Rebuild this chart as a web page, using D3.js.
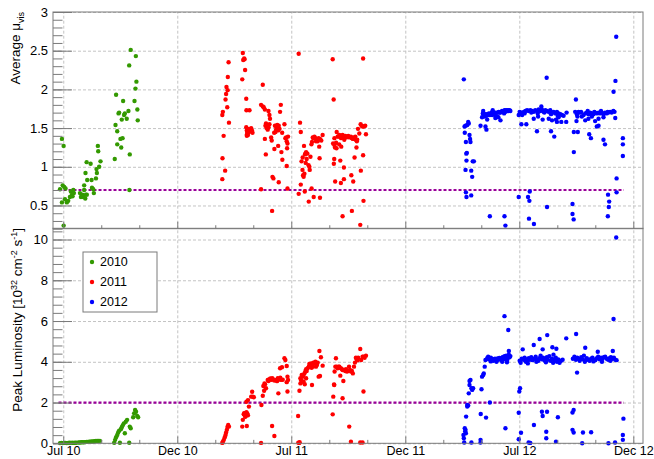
<!DOCTYPE html>
<html>
<head>
<meta charset="utf-8">
<script src="https://cdn.jsdelivr.net/npm/d3@7"></script>
<style>
  body { margin: 0; background: #fff; }
  svg { font-family: "Liberation Sans", Arial, Helvetica, sans-serif; }
  .axis path { stroke: none; }
  .axis line { stroke: #7a7a7a; }
  .grid line { stroke: #c4c4c4; stroke-dasharray: 3,2; }
  .grid path { stroke: none; }
</style>
</head>
<body>
<svg width="654" height="459"></svg>
<script>
// x values are months after the "Jul 10" tick
const tickLabels = ["Jul 10", "Dec 10", "Jul 11", "Dec 11", "Jul 12", "Dec 12"];
const tickMonths = [0, 6, 12, 18, 24, 30];
const years = ["2010", "2011", "2012"];
const colors = ["#339900", "#ff0000", "#0000ff"];
const muThreshold = 0.7;
const lumiThreshold = 2.0;
const thresholdSpan = [-0.25, 29.5];

// average mu_vis
const mu2010 = [[-0.07,1.36],[0.02,1.27],[-0.17,0.71],[-0.03,0.76],[0.05,0.74],[0.12,0.72],[-0.07,0.54],[0.09,0.58],[0.19,0.54],[0.26,0.56],[0.02,0.24],[0.35,0.61],[0.40,0.68],[0.46,0.64],[0.49,0.62],[0.53,0.70],[0.56,0.66],
  [0.88,0.66],[0.93,0.61],[1.00,0.64],[1.05,0.61],[1.10,0.70],[1.16,0.59],[1.19,0.64],[1.24,0.64],[1.10,0.76],[1.17,0.92],[1.23,1.06],[1.26,0.83],[1.44,1.04],[1.49,0.83],[1.51,0.73],[1.58,0.71],[1.61,0.66],
  [1.72,0.85],[1.75,0.97],[1.77,0.92],[1.84,1.20],[1.82,1.27],[1.89,1.00],[1.96,1.07],[2.71,1.10],[2.75,1.54],[2.78,1.93],[2.84,1.29],[2.84,1.46],[2.91,1.69],[2.94,1.70],[3.01,1.36],[3.05,1.25],
  [3.08,1.61],[3.12,1.37],[3.15,1.85],[3.20,1.67],[3.24,1.69],[3.34,1.62],[3.43,1.72],[3.47,2.31],[3.50,1.16],[3.48,0.70],[3.55,2.51],[3.75,1.85],[3.80,2.01],[3.82,2.43],[3.85,2.10],[3.90,1.74],[3.92,1.60]];
const mu2011 = [[8.37,0.84],[8.38,1.11],[8.44,1.40],[8.37,1.67],[8.40,1.71],[8.52,0.95],[8.54,1.87],[8.57,1.94],[8.59,2.03],[8.65,1.99],[8.63,1.77],[8.66,2.16],[8.70,2.35],[8.72,1.57],
  [9.42,2.13],[9.45,2.47],[9.47,2.38],[9.52,2.40],[9.54,2.39],[9.57,2.25],[9.63,1.88],[9.64,1.73],[9.80,1.73],
  [9.63,1.51],[9.66,1.47],[9.68,1.45],[9.71,1.49],[9.74,1.47],[9.77,1.45],[9.80,1.48],[9.83,1.46],[9.86,1.49],[9.89,1.50],[9.93,1.47],[9.96,1.44],[9.66,1.40],[9.72,1.41],[9.67,1.42],
  [10.41,0.71],[10.50,2.06],[10.41,1.80],[10.50,1.78],[10.55,1.77],[10.61,1.74],
  [10.64,1.53],[10.67,1.56],[10.72,1.53],[10.76,1.48],[10.80,1.51],[10.85,1.55],[10.70,1.50],[10.78,1.53],
  [10.66,1.16],[10.61,1.36],[10.80,1.72],[10.85,1.67],[10.88,1.62],[10.94,1.38],[10.97,1.34],[11.01,0.87],[11.06,0.85],[10.99,0.43],[11.11,1.23],
  [11.17,1.45],[11.24,1.51],[11.29,1.52],[11.34,1.53],[11.38,1.49],[11.31,1.47],[11.10,1.44],[11.20,1.48],[11.26,1.54],[11.14,1.53],
  [11.31,1.27],[11.34,0.80],[11.41,1.71],[11.45,1.80],[11.48,1.19],[11.52,1.44],[11.53,1.09],[11.64,1.55],
  [11.69,1.37],[11.73,1.38],[11.76,1.33],[11.80,1.30],[11.83,1.39],[11.76,1.01],[11.78,1.24],[11.80,0.72],
  [12.39,2.46],[12.46,1.57],[12.50,1.45],[12.39,0.65],[12.50,0.77],
  [12.54,1.07],[12.59,0.96],[12.62,0.89],[12.65,0.87],[12.69,0.91],[12.74,1.17],[12.78,1.19],[12.81,1.10],[12.67,1.27],[12.72,1.16],[12.85,1.17],[12.60,1.12],[12.76,1.05],
  [12.71,0.68],[12.92,0.55],[12.95,1.00],[12.97,0.96],[12.91,1.02],
  [13.01,1.13],[13.06,1.29],[13.09,1.32],[13.13,1.38],[13.16,1.37],[13.22,1.39],[13.27,1.37],[13.30,1.33],[13.34,1.35],[13.39,1.33],[13.44,1.37],[13.51,1.36],[13.58,1.34],[13.65,1.41],
  [13.07,0.72],[13.18,0.61],[13.49,1.11],[13.51,0.60],[13.47,1.26],[14.18,2.39],[14.23,1.87],
  [14.20,1.30],[14.27,1.28],[14.30,1.25],[14.27,1.37],[14.36,1.31],[14.39,1.45],[14.44,1.39],[14.49,1.39],[14.53,1.41],[14.62,1.37],[14.67,1.39],[14.70,1.41],[14.76,1.38],[14.79,1.35],[14.84,1.40],[14.88,1.38],[14.93,1.39],[15.00,1.40],
  [15.05,1.38],[15.14,1.39],[15.19,1.37],[15.24,1.36],[15.30,1.38],[15.33,1.36],[15.37,1.39],[15.40,1.35],[15.45,1.33],[15.51,1.49],[15.58,1.43],[15.65,1.55],[15.70,1.53],[15.75,1.52],[15.82,1.52],[15.89,1.53],[15.93,1.42],
  [14.26,1.10],[14.24,1.04],[14.31,0.81],[14.38,1.24],[14.52,1.29],[14.58,1.08],[14.61,0.79],[14.63,1.26],[14.70,0.36],[14.77,0.99],[14.77,0.84],[15.16,0.89],[15.19,0.43],[15.26,0.81],[15.33,1.12],[15.43,1.25],[15.47,1.35],[15.63,0.25],[15.66,0.95],[15.78,2.40],[15.80,0.56],[15.78,1.15]];
const mu2012 = [[21.08,2.13],[21.12,1.52],[21.17,1.53],[21.26,1.54],[21.31,1.58],[21.34,1.56],[21.13,1.44],[21.19,1.32],[21.38,1.41],[21.41,1.36],[21.43,1.32],[21.21,1.17],[21.24,1.18],[21.22,1.08],[21.17,0.96],[21.47,0.95],[21.52,0.87],[21.55,1.07],[21.61,1.07],[21.19,0.67],[21.22,0.61],[21.47,0.63],
  [21.96,1.53],[22.04,1.64],[22.08,1.69],[22.13,1.67],[22.17,1.65],[22.22,1.68],[22.27,1.66],[22.31,1.68],[22.36,1.67],[22.40,1.69],[22.45,1.67],[22.48,1.68],[22.54,1.70],[22.57,1.67],[22.61,1.69],[22.66,1.68],[22.70,1.70],[22.74,1.67],[22.78,1.70],[22.83,1.65],[22.87,1.70],
  [22.92,1.71],[22.96,1.70],[23.01,1.70],[23.05,1.71],[23.09,1.72],[23.14,1.71],[23.18,1.72],[23.23,1.73],[23.27,1.71],[23.31,1.73],[23.36,1.72],[23.40,1.73],[23.44,1.72],[23.49,1.73],[23.53,1.72],[22.10,1.72],[22.60,1.73],[22.90,1.64],[23.20,1.69],
  [22.22,1.52],[22.27,1.48],[22.31,1.61],[22.74,1.63],[23.01,1.60],[22.45,0.36],[23.22,0.36],[23.27,0.24],
  [23.97,1.67],[24.06,1.69],[24.11,1.70],[24.15,1.67],[24.24,1.71],[24.32,1.72],[24.41,1.73],[24.50,1.72],[24.58,1.73],[24.67,1.72],[24.76,1.71],[24.84,1.73],[24.93,1.72],[25.02,1.74],[25.11,1.72],[25.19,1.74],[25.28,1.71],[25.37,1.73],[25.46,1.72],
  [25.54,1.71],[25.63,1.73],[25.72,1.70],[25.81,1.71],[25.89,1.69],[25.98,1.71],[26.07,1.69],[26.16,1.68],[26.24,1.67],[26.33,1.66],[24.02,1.71],[24.28,1.69],[24.63,1.70],[24.97,1.69],[25.32,1.70],[25.67,1.68],[26.02,1.66],
  [25.16,1.78],[25.44,2.15],[24.76,1.62],[24.99,1.65],[25.23,1.61],[25.55,1.62],[25.72,1.60],[25.93,1.61],[26.07,1.64],[26.21,1.58],[25.98,1.58],[26.47,1.58],[26.49,1.70],
  [24.11,1.55],[24.37,1.55],[24.93,1.46],[25.67,1.46],[25.84,1.39],
  [23.97,0.61],[24.46,0.61],[24.55,0.68],[24.53,0.56],[24.51,0.33],[24.77,0.26],[25.46,0.48],
  [26.80,0.52],[26.80,0.39],[26.86,0.32],[26.87,1.19],[26.87,1.45],[27.08,1.45],[26.98,1.87],
  [26.94,1.71],[27.01,1.59],[27.06,1.65],[27.08,1.70],[27.12,1.71],[27.20,1.70],[27.29,1.65],[27.38,1.67],[27.47,1.69],[27.55,1.70],[27.64,1.68],[27.73,1.70],[27.82,1.69],[27.90,1.68],[27.99,1.70],[28.08,1.69],[28.17,1.70],[28.25,1.69],
  [28.34,1.70],[28.43,1.68],[28.51,1.70],[28.60,1.69],[28.69,1.70],[28.78,1.71],[28.86,1.70],[28.95,1.72],[29.01,1.71],[27.03,1.68],[27.25,1.71],[27.60,1.72],[27.95,1.71],[28.30,1.72],[28.65,1.71],
  [27.47,1.60],[27.64,1.62],[27.82,1.65],[27.99,1.59],[28.17,1.62],[28.43,1.64],[28.08,1.52],[28.17,1.53],
  [27.68,1.42],[27.77,1.37],[28.43,1.35],[28.51,1.29],[28.67,0.64],[28.73,0.55],[28.71,0.48],[28.66,0.36],
  [28.96,1.97],[29.06,2.11],[29.10,2.68],[29.05,1.63],[29.12,0.85],[29.12,0.67],[29.45,1.37],[29.45,1.29],[29.45,1.14]];

// peak luminosity, 10^32 cm^-2 s^-1
const lumi2010 = [[-0.17,0.01],[-0.10,0.02],[-0.03,0.01],[0.05,0.02],[0.12,0.02],[0.19,0.01],[0.26,0.02],[0.33,0.03],[0.40,0.02],[0.47,0.03],[0.54,0.02],[0.61,0.03],[0.68,0.03],[0.80,0.04],[0.88,0.04],[0.95,0.05],
  [1.02,0.05],[1.09,0.05],[1.16,0.06],[1.23,0.07],[1.30,0.07],[1.37,0.08],[1.44,0.08],[1.51,0.09],[1.58,0.09],[1.65,0.10],[1.72,0.11],[1.79,0.11],[1.86,0.12],[1.93,0.12],
  [2.68,0.03],[2.73,0.17],[2.78,0.30],[2.84,0.41],[2.89,0.53],[2.94,0.62],[2.98,0.03],[3.03,0.69],[3.08,0.79],[3.13,0.88],[3.19,0.98],[3.24,0.49],[3.29,1.06],[3.36,1.15],[3.47,0.03],[3.50,0.82],[3.55,0.74],
  [3.68,1.28],[3.73,1.47],[3.78,1.64],[3.83,1.55],[3.89,1.34],[3.94,1.28]];
const lumi2011 = [[8.37,0.02],[8.40,0.08],[8.45,0.17],[8.50,0.30],[8.54,0.41],[8.57,0.53],[8.61,0.66],[8.64,0.80],[8.68,0.90],[8.72,0.82],
  [9.42,0.82],[9.45,1.15],[9.50,1.42],[9.52,1.48],[9.55,1.47],[9.59,1.38],[9.62,1.40],[9.64,1.52],[9.68,1.47],[9.72,1.38],[9.66,0.85],[9.60,1.33],[9.57,1.30],
  [9.64,2.04],[9.72,2.12],[9.77,1.80],[9.89,2.29],[9.94,2.53],[9.98,2.29],[10.03,2.26],
  [10.43,1.88],[10.41,0.02],[10.50,2.33],[10.53,2.81],[10.59,2.94],[10.62,2.90],[10.57,2.58],[10.67,2.70],
  [10.76,3.11],[10.85,3.14],[10.94,3.11],[11.03,3.14],[11.11,3.08],[11.20,3.11],[11.29,3.19],[11.38,3.14],[11.46,3.11],[11.55,3.12],[10.80,3.06],[10.90,3.18],[11.00,3.20],[11.25,3.05],[11.42,3.22],
  [10.99,0.85],[11.11,0.36],[11.32,2.45],[11.41,3.68],[11.51,3.73],[11.64,4.17],[11.69,4.09],[11.76,3.79],[11.80,3.27],[11.80,2.54],[11.83,3.11],[11.76,3.00],
  [12.37,0.03],[12.36,1.34],[12.43,2.58],[12.48,2.94],[12.51,3.11],[12.57,3.03],[12.60,3.27],[12.64,3.35],[12.69,3.43],[12.74,3.52],[12.78,3.63],[12.81,3.55],[12.86,3.68],[12.92,3.76],[12.95,3.89],[13.00,3.76],
  [13.04,3.92],[13.07,3.71],[13.13,3.76],[13.16,3.96],[13.21,3.92],[13.27,4.00],[13.30,3.76],[13.35,3.84],[13.39,3.96],[13.44,3.27],[13.48,4.53],[13.51,3.30],[13.56,4.22],[13.65,3.81],
  [12.48,3.19],[12.55,3.35],[12.65,3.02],[12.78,3.19],[13.09,2.86],[12.71,2.90],[12.42,0.02],
  [14.18,1.42],[14.21,2.29],[14.25,2.89],[14.28,3.52],[14.32,3.76],[14.35,4.17],[14.39,3.76],[14.44,3.68],[14.49,3.76],[14.53,3.76],[14.58,3.32],[14.61,3.68],[14.67,3.63],[14.70,3.60],[14.74,3.06],[14.79,3.60],
  [14.84,3.55],[14.88,3.63],[14.93,3.52],[14.98,3.55],[15.04,3.76],[15.09,3.60],[15.14,3.52],[15.19,3.55],[15.24,3.43],[15.30,3.76],[15.35,3.96],[15.40,4.20],[15.45,4.11],[15.49,4.07],[15.52,4.20],
  [15.63,4.63],[15.68,4.09],[15.75,4.25],[15.80,4.25],[15.86,4.20],[15.93,4.30],[14.26,2.86],[14.70,2.21],[15.05,0.82],[15.14,0.08],[15.63,0.04],[15.75,0.04],[15.80,2.54],[12.44,0.05]];
const lumi2012 = [[21.06,0.41],[21.08,0.25],[21.10,0.04],[21.13,0.74],[21.17,0.66],[21.20,1.31],[21.26,1.80],[21.26,1.88],[21.31,1.85],[21.34,2.45],[21.38,2.86],[21.43,3.11],[21.48,2.70],[21.52,2.62],[21.57,2.70],[21.38,3.06],[21.48,0.04],[21.19,0.49],[21.15,0.58],
  [21.96,0.17],[21.96,0.04],[21.97,1.44],[22.01,2.65],[22.04,3.27],[22.10,3.35],[22.13,3.43],[22.18,3.76],[22.22,4.09],[22.25,1.26],[22.45,2.00],
  [22.31,4.17],[22.36,4.25],[22.40,4.12],[22.45,4.15],[22.50,4.20],[22.54,4.09],[22.59,4.14],[22.63,4.05],[22.68,4.10],[22.72,4.15],[22.77,4.12],[22.82,4.08],[22.86,4.16],[22.91,4.11],[22.95,4.19],[23.00,4.14],
  [23.04,4.10],[23.09,4.20],[23.13,4.23],[23.18,4.15],[23.22,4.28],[23.27,4.12],[23.31,4.30],[23.36,4.05],[23.40,4.18],[23.45,4.35],[23.49,4.22],[23.53,4.28],[22.50,4.02],[22.80,4.00],[23.10,4.00],[23.35,3.98],
  [23.22,6.24],[23.42,5.56],[23.45,4.53],[23.27,0.74],
  [23.97,1.50],[24.00,2.54],[24.04,2.70],[23.97,0.20],[24.09,0.52],[24.49,0.04],[24.58,0.02],[24.18,4.61],[24.35,4.00],[24.76,4.82],[24.77,0.90],[25.07,5.12],[25.23,4.61],[25.47,5.31],[25.74,4.71],[25.95,4.64],
  [26.47,5.15],[26.99,5.36],[27.47,4.69],[28.13,4.49],[25.19,1.55],[25.23,1.34],[25.46,1.55],[25.42,0.57],[25.42,0.25],[25.93,0.08],[26.03,1.28],[26.80,1.51],[26.86,1.64],[26.80,0.66],[26.86,0.53],[27.04,3.47],
  [27.35,0.53],[27.31,0.00],[27.78,0.54],[28.69,0.00],[29.04,0.04],[28.96,6.10],[29.10,10.10],[28.92,4.53],[29.48,1.21],[29.45,0.41],[29.45,0.17],
  [24.02,4.05],[24.07,3.95],[24.13,4.15],[24.22,4.10],[24.28,4.20],[24.37,4.12],[24.42,4.05],[24.50,4.18],[24.55,4.10],[24.63,4.22],[24.70,4.08],[24.80,4.15],[24.86,4.25],[24.93,4.12],[25.00,4.05],[25.06,4.18],
  [25.12,4.30],[25.19,4.12],[25.25,4.20],[25.32,4.08],[25.38,4.15],[25.45,4.22],[25.50,4.10],[25.58,4.28],[25.65,4.05],[25.72,4.15],[25.78,3.95],[25.85,4.10],[25.92,4.20],[25.98,4.00],[26.05,4.12],[26.12,3.95],
  [26.20,4.05],[26.28,4.10],[24.45,3.92],[24.90,4.00],[25.40,3.98],[25.80,4.35],
  [26.82,4.15],[26.90,4.25],[26.98,4.10],[27.05,4.20],[27.12,4.15],[27.18,4.05],[27.26,4.22],[27.33,4.12],[27.40,4.30],[27.48,4.08],[27.55,4.18],[27.62,4.10],[27.70,4.05],[27.78,4.15],[27.85,4.20],[27.92,4.10],
  [28.00,4.08],[28.08,4.18],[28.15,4.25],[28.22,4.12],[28.30,4.20],[28.38,4.15],[28.45,4.22],[28.52,4.25],[28.60,4.15],[28.68,4.10],[28.75,4.18],[28.82,4.22],[28.90,4.15],[28.98,4.20],[29.05,4.10],[29.12,4.08],
  [27.45,4.00],[27.90,4.02],[28.35,4.00],[28.80,4.05]];

const svg = d3.select("svg");
const left = 53, right = 643;

const x = d3.scaleLinear().domain([-0.54, 30.51]).range([left, right]);
const yTop = d3.scaleLinear().domain([0.2, 3]).range([228.7, 12]);
const yBot = d3.scaleLinear().domain([0, 10.55]).range([443.3, 228.3]);

const minorX = d3.range(0, 31, 2).filter(d => d % 6 !== 0);

function panel(y, majorY, minorY, series, threshold, withLabels) {
    const top = y.range()[1], bottom = y.range()[0];
    const g = svg.append("g");

    // grid
    g.append("g").attr("class", "grid")
        .attr("transform", `translate(0,${bottom})`)
        .call(d3.axisBottom(x).tickValues(tickMonths).tickSize(-(bottom - top)).tickFormat(""));
    g.append("g").attr("class", "grid")
        .attr("transform", `translate(${left},0)`)
        .call(d3.axisLeft(y).tickValues(majorY).tickSize(-(right - left)).tickFormat(""));

    // threshold
    g.append("line")
        .attr("x1", x(thresholdSpan[0])).attr("x2", x(thresholdSpan[1]))
        .attr("y1", y(threshold)).attr("y2", y(threshold))
        .attr("stroke", "#990099").attr("stroke-width", 2.2)
        .attr("stroke-dasharray", "3,2");

    // points
    series.forEach((s, i) => {
        g.append("g").selectAll("circle")
            .data(s)
            .join("circle")
            .attr("cx", d => x(d[0]))
            .attr("cy", d => y(d[1]))
            .attr("r", 2.2)
            .attr("fill", colors[i]);
    });

    // axes with inward ticks
    const tickH = (bottom - top) * 0.032;
    g.append("g").attr("class", "axis")
        .attr("transform", `translate(${left},0)`)
        .call(d3.axisLeft(y).tickValues(minorY).tickSize(-9.5).tickFormat(""));
    g.append("g").attr("class", "axis ylab")
        .attr("transform", `translate(${left},0)`)
        .call(d3.axisLeft(y).tickValues(majorY).tickSize(-19).tickPadding(5).tickFormat(d3.format("~g")));
    g.append("g").attr("class", "axis")
        .attr("transform", `translate(0,${bottom})`)
        .call(d3.axisBottom(x).tickValues(minorX).tickSize(-tickH / 2).tickFormat(""));
    g.append("g").attr("class", "axis xlab")
        .attr("transform", `translate(0,${bottom})`)
        .call(d3.axisBottom(x).tickValues(tickMonths).tickSize(-tickH).tickPadding(3)
            .tickFormat((d, i) => withLabels ? tickLabels[i] : ""));

    g.selectAll(".ylab text")
        .attr("fill", "#000")
        .style("font-size", "13px");
    g.selectAll(".xlab text")
        .attr("fill", "#000")
        .style("font-size", "12.5px");

    // frame
    g.append("rect")
        .attr("x", left).attr("y", top)
        .attr("width", right - left).attr("height", bottom - top)
        .attr("fill", "none").attr("stroke", "#7a7a7a").attr("stroke-width", 1);
    return g;
}

panel(yTop, [0.5, 1, 1.5, 2, 2.5, 3], d3.range(0.2, 3.001, 0.1).map(d => +d.toFixed(1)),
    [mu2010, mu2011, mu2012], muThreshold, false);
panel(yBot, [0, 2, 4, 6, 8, 10], d3.range(0, 10.55, 0.4).map(d => +d.toFixed(1)),
    [lumi2010, lumi2011, lumi2012], lumiThreshold, true);

// axis titles
const t1 = svg.append("text")
    .attr("transform", "translate(20,12) rotate(-90)")
    .attr("text-anchor", "end")
    .style("font-size", "13.5px");
t1.append("tspan").text("Average \u03bc");
t1.append("tspan").attr("dy", 4).style("font-size", "9px").text("vis");

const t2 = svg.append("text")
    .attr("transform", "translate(22,228) rotate(-90)")
    .attr("text-anchor", "end")
    .style("font-size", "13.5px");
t2.append("tspan").text("Peak Luminosity [10");
t2.append("tspan").attr("dy", -5).style("font-size", "9px").text("32");
t2.append("tspan").attr("dy", 5).text(" cm");
t2.append("tspan").attr("dy", -5).style("font-size", "9px").text("-2");
t2.append("tspan").attr("dy", 5).text(" s");
t2.append("tspan").attr("dy", -5).style("font-size", "9px").text("-1");
t2.append("tspan").attr("dy", 5).text("]");

// legend
const legend = svg.append("g");
legend.append("rect")
    .attr("x", 83).attr("y", 252).attr("width", 74).attr("height", 60)
    .attr("fill", "#fff").attr("stroke", "#7a7a7a");
const items = legend.selectAll("g.item")
    .data(years)
    .join("g").attr("class", "item")
    .attr("transform", (d, i) => `translate(92,${262 + i * 20})`);
items.append("circle").attr("r", 2.2).attr("fill", (d, i) => colors[i]);
items.append("text").attr("x", 8).attr("dy", "0.35em")
    .style("font-size", "12.5px").text(d => d);
</script>
</body>
</html>
